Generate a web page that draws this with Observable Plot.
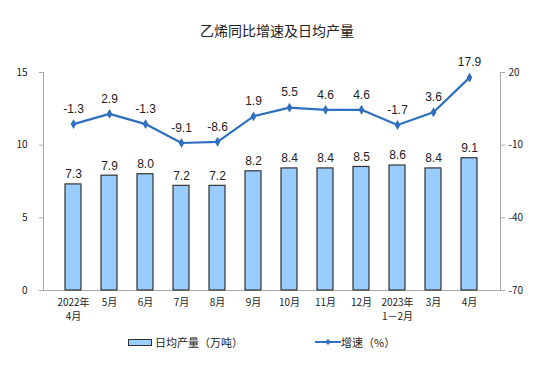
<!DOCTYPE html>
<html><head><meta charset="utf-8">
<script src="https://cdn.jsdelivr.net/npm/d3@7"></script>
<script src="https://cdn.jsdelivr.net/npm/@observablehq/plot@0.6"></script>
<style>
body{margin:0;background:#fff;font-family:"Liberation Sans","Noto Sans CJK SC",sans-serif;}
#wrap{width:554px;height:380px;position:relative;}
#title{height:50px;line-height:60px;text-align:center;font-size:14px;color:#222;font-family:"Noto Sans CJK SC",sans-serif;}
#legend{display:flex;font-size:11px;color:#222;font-family:"Noto Sans CJK SC",sans-serif;margin-top:2px;}
.it{display:flex;align-items:center;}
</style></head><body>
<div id="wrap">
<div id="title">乙烯同比增速及日均产量</div>
<div id="chart"></div>
<div id="legend">
 <div class="it" style="margin-left:128px"><span style="display:inline-block;width:22px;height:5px;background:#99ccff;border:1px solid #333;margin-right:3px"></span>日均产量（万吨）</div>
 <div class="it" style="margin-left:72px"><svg width="26" height="8"><line x1="0" y1="4" x2="26" y2="4" stroke="#2e6fbf" stroke-width="2"/><path d="M13 1 L16 4 L13 7 L10 4Z" fill="#2e6fbf"/></svg>增速（%）</div>
</div>
</div>
<script>
const categories = ["2022年\n4月","5月","6月","7月","8月","9月","10月","11月","12月","2023年\n1－2月","3月","4月"];
const output = [7.3,7.9,8.0,7.2,7.2,8.2,8.4,8.4,8.5,8.6,8.4,9.1];
const growth = [-1.3,2.9,-1.3,-9.1,-8.6,1.9,5.5,4.6,4.6,-1.7,3.6,17.9];
const leftTicks = [0,5,10,15];
const rightTicks = [-70,-40,-10,20];

const toLeft = v => (v - rightTicks[0]) / (rightTicks[3] - rightTicks[0]) * 15;
const rows = categories.map((c,i)=>({c, o:output[i], g:growth[i], gy:toLeft(growth[i])}));
const fmt = v => v.toFixed(1);
const lineColor = "#2e6fbf";

const chart = Plot.plot({
  width:554, height:282,
  marginTop:22, marginBottom:42, marginLeft:43, marginRight:54,
  style:{fontFamily:"'Noto Sans CJK SC',sans-serif", fontSize:"10px", color:"#222", overflow:"visible"},
  x:{domain:categories, padding:0.55, label:null},
  y:{domain:[0,15], label:null},
  marks:[
    Plot.frame({anchor:"left", stroke:"#aaa"}),
    Plot.frame({anchor:"right", stroke:"#aaa"}),
    Plot.ruleY([0], {stroke:"#aaa"}),
    Plot.axisY(leftTicks, {anchor:"left", tickSize:4, tickPadding:12, stroke:"#aaa", label:null}),
    Plot.axisY(rightTicks.map(toLeft), {anchor:"right", tickSize:4, tickPadding:4, stroke:"#aaa", tickFormat:(d,i)=>String(rightTicks[i]), label:null}),
    Plot.axisX({tickSize:0, tickPadding:5, label:null, lineHeight:1.45}),
    Plot.barY(rows, {x:"c", y:"o", fill:"#99ccff", stroke:"#333", strokeWidth:1.2}),
    Plot.text(rows, {x:"c", y:"o", text:d=>fmt(d.o), dy:-10, fontSize:12, fontFamily:"Liberation Sans,Arial,sans-serif", fill:"#222"}),
    Plot.line(rows, {x:"c", y:"gy", stroke:lineColor, strokeWidth:2.2}),
    Plot.dot(rows, {x:"c", y:"gy", symbol:"diamond", r:3, fill:lineColor}),
    Plot.text(rows, {x:"c", y:"gy", text:d=>fmt(d.g), dy:-15, fontSize:12, fontFamily:"Liberation Sans,Arial,sans-serif", fill:"#222"})
  ]
});
document.getElementById("chart").appendChild(chart);
</script>
</body></html>
